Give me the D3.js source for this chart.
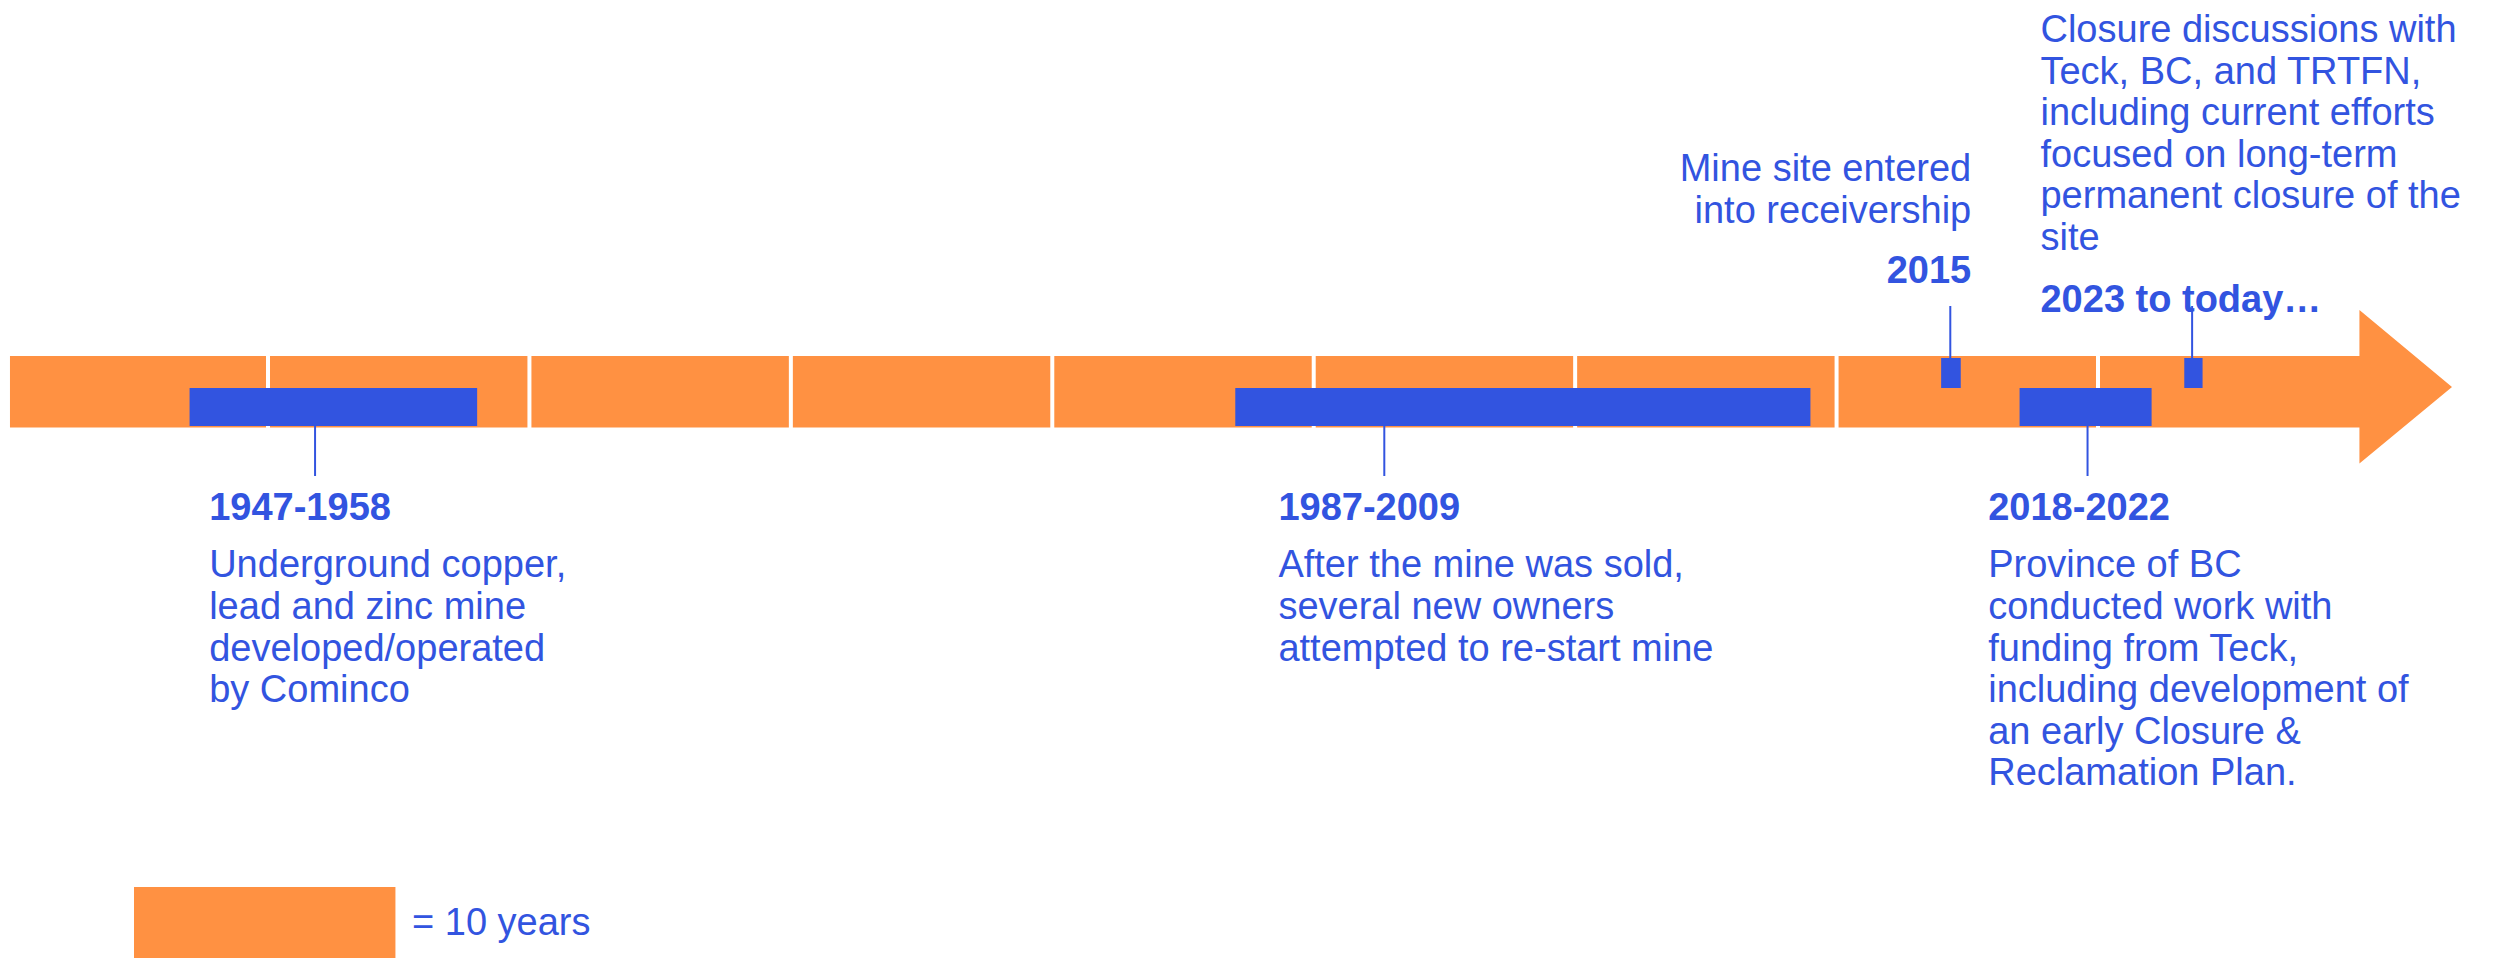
<!DOCTYPE html>
<html>
<head>
<meta charset="utf-8">
<script src="https://cdn.jsdelivr.net/npm/d3@7"></script>
<style>
  html, body { margin: 0; padding: 0; background: #ffffff; }
  svg { display: block; }
  text { font-family: "Liberation Sans", Arial, sans-serif; }
</style>
</head>
<body>
<svg id="chart" width="2497" height="959"></svg>
<script>
// ---------- DATA ----------
const timelineStart = 1940;
const timelineEnd = 2030;
const decadeDividers = [1950, 1960, 1970, 1980, 1990, 2000, 2010, 2020];

const eventTitles = ["1947-1958", "1987-2009", "2015", "2018-2022", "2023 to today…"];
const eventStart  = [1947, 1987, 2014.0, 2017.0, 2023.3];
const eventEnd    = [1958, 2009, 2014.75, 2022.05, 2024.0];
const eventKind   = ["bar", "bar", "marker", "bar", "marker"];
const eventLeader = [1951.8, 1992.7, 2014.35, 2019.6, 2023.6];
const eventText = [
  ["Underground copper,", "lead and zinc mine", "developed/operated", "by Cominco"],
  ["After the mine was sold,", "several new owners", "attempted to re-start mine"],
  ["Mine site entered", "into receivership"],
  ["Province of BC", "conducted work with", "funding from Teck,", "including development of", "an early Closure &", "Reclamation Plan."],
  ["Closure discussions with", "Teck, BC, and TRTFN,", "including current efforts", "focused on long-term", "permanent closure of the", "site"]
];
const legendYears = 10;
const legendLabel = "= 10 years";

// ---------- LAYOUT / STYLE ----------
const ORANGE = "#FF9142";
const BLUE = "#3254E0";
const FONT = 38;
const LINE = 41.6;

const x = d3.scaleLinear().domain([1950, 2020]).range([268, 2098]);

const barTop = 356, barBottom = 427.5;
const arrowTop = 310, arrowBottom = 463.5, arrowTipX = 2452, arrowTipY = 387;
const lowerTop = 388;

// label anchor (years) and placement per event
const labelAnchorYear = [1947.75, 1988.65, 2015.15, 2015.8, 2017.8];
const labelSide = ["below", "below", "above", "below", "above"];
const labelAlign = ["start", "start", "end", "start", "start"];

const svg = d3.select("#chart");

// ---------- TIMELINE ARROW ----------
const x0 = x(timelineStart) + 3.4, x1 = x(timelineEnd);
const arrowPath = d3.path();
arrowPath.moveTo(x0, barTop);
arrowPath.lineTo(x1, barTop);
arrowPath.lineTo(x1, arrowTop);
arrowPath.lineTo(arrowTipX, arrowTipY);
arrowPath.lineTo(x1, arrowBottom);
arrowPath.lineTo(x1, barBottom);
arrowPath.lineTo(x0, barBottom);
arrowPath.closePath();
svg.append("path").attr("d", arrowPath.toString()).attr("fill", ORANGE);

// decade dividers
svg.append("g").selectAll("line").data(decadeDividers).join("line")
  .attr("x1", d => x(d)).attr("x2", d => x(d))
  .attr("y1", barTop - 1).attr("y2", barBottom + 1)
  .attr("stroke", "#ffffff").attr("stroke-width", 4);

// ---------- EVENTS ----------
const events = eventTitles.map((t, i) => ({
  title: t, start: eventStart[i], end: eventEnd[i], kind: eventKind[i],
  leader: eventLeader[i], lines: eventText[i], anchor: labelAnchorYear[i],
  side: labelSide[i], align: labelAlign[i]
}));

// leaders
svg.append("g").selectAll("line").data(events).join("line")
  .attr("x1", d => x(d.leader)).attr("x2", d => x(d.leader))
  .attr("y1", d => d.kind === "bar" ? barBottom - 2 : barTop + 4)
  .attr("y2", d => d.kind === "bar" ? 476 : 306)
  .attr("stroke", BLUE).attr("stroke-width", 2);

// bars / markers
svg.append("g").selectAll("rect").data(events).join("rect")
  .attr("x", d => x(d.start))
  .attr("width", d => x(d.end) - x(d.start))
  .attr("y", d => d.kind === "bar" ? lowerTop : 358)
  .attr("height", d => d.kind === "bar" ? 38 : 30)
  .attr("fill", BLUE);

// labels
events.forEach(d => {
  const g = svg.append("g");
  const ax = x(d.anchor);
  if (d.side === "below") {
    g.append("text").attr("x", ax).attr("y", 520)
      .attr("text-anchor", d.align).attr("font-size", FONT).attr("font-weight", "bold")
      .attr("fill", BLUE).text(d.title);
    d.lines.forEach((ln, j) => {
      g.append("text").attr("x", ax).attr("y", 577.3 + j * LINE)
        .attr("text-anchor", d.align).attr("font-size", FONT)
        .attr("fill", BLUE).text(ln);
    });
  } else {
    const titleY = d.align === "end" ? 282.5 : 311.7;
    const bodyLastY = d.align === "end" ? 222.7 : 250;
    g.append("text").attr("x", ax).attr("y", titleY)
      .attr("text-anchor", d.align).attr("font-size", FONT).attr("font-weight", "bold")
      .attr("fill", BLUE).text(d.title);
    const n = d.lines.length;
    d.lines.forEach((ln, j) => {
      g.append("text").attr("x", ax).attr("y", bodyLastY - (n - 1 - j) * LINE)
        .attr("text-anchor", d.align).attr("font-size", FONT)
        .attr("fill", BLUE).text(ln);
    });
  }
});

// ---------- LEGEND ----------
const legendX = 134;
svg.append("rect")
  .attr("x", legendX).attr("y", 887)
  .attr("width", x(1950 + legendYears) - x(1950)).attr("height", 71)
  .attr("fill", ORANGE);
svg.append("text")
  .attr("x", 412).attr("y", 935)
  .attr("font-size", FONT).attr("fill", BLUE)
  .text(legendLabel);
</script>
</body>
</html>
